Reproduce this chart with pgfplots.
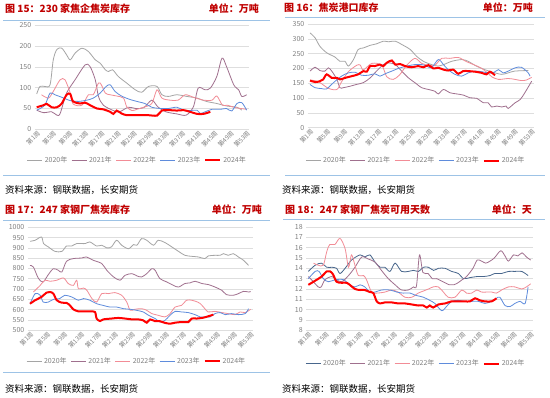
\documentclass[border=0pt]{standalone}
\usepackage{fontspec}
\setmainfont{Noto Sans CJK SC}
\usepackage{pgfplots}
\pgfplotsset{compat=1.18}
\definecolor{titlered}{RGB}{192,0,0}
\definecolor{sepblue}{RGB}{157,195,230}
\definecolor{gridc}{RGB}{222,222,222}
\definecolor{tickc}{RGB}{128,128,128}
\definecolor{cA}{RGB}{165,165,165}
\definecolor{cAd}{RGB}{72,102,140}
\definecolor{cB}{RGB}{160,112,142}
\definecolor{cC}{RGB}{242,140,150}
\definecolor{cD}{RGB}{95,140,220}
\definecolor{cE}{RGB}{255,0,0}
\pgfplotsset{
  panel/.style={
    scale only axis,
    xmin=0.5, xmax=53.5,
    xtick={1,5,...,53},
    xticklabels={第1周,第5周,第9周,第13周,第17周,第21周,第25周,第29周,第33周,第37周,第41周,第45周,第49周,第53周},
    axis line style={draw=none},
    major tick length=0pt,
    ymajorgrids,
    grid style={draw=gridc, line width=0.6pt},
    /pgf/number format/assume math mode=true,
    /pgf/number format/1000 sep={},
    scaled ticks=false,
    tick label style={text=tickc},
    y tick label style={font=\fontsize{7}{8}\selectfont},
    x tick label style={rotate=45, anchor=north east, font=\fontsize{6.2}{7}\selectfont, inner sep=0.5pt},
    no markers,
    legend columns=5,
    legend style={draw=none, fill=none, font=\fontsize{7}{8}\selectfont, text=tickc,
      /tikz/every even column/.append style={column sep=2pt},
      /tikz/every odd column/.append style={column sep=0pt}},
    legend image code/.code={\draw[#1] (0pt,0pt) -- (15pt,0pt);},
    every axis plot/.append style={smooth},
  },
  s20/.style={draw=cA, line width=0.8pt},
  s21/.style={draw=cB, line width=0.8pt},
  s22/.style={draw=cC, line width=0.8pt},
  s23/.style={draw=cD, line width=0.8pt},
  s24/.style={draw=cE, line width=2pt},
}
\begin{document}
\begin{tikzpicture}
\path[use as bounding box, fill=white] (0pt,0pt) rectangle (550pt,398pt);
% ---------- titles and separators ----------
\tikzset{ttl/.style={text=titlered, font=\bfseries\fontsize{10}{12}\selectfont, inner sep=0pt}}
\node[ttl, anchor=west] at (5pt,389.7pt) {图 15：230 家焦企焦炭库存};
\node[ttl, anchor=east] at (259pt,389.7pt) {单位：万吨};
\node[ttl, anchor=west] at (284pt,390.5pt) {图 16：焦炭港口库存};
\node[ttl, anchor=east] at (533pt,390.5pt) {单位：万吨};
\node[ttl, anchor=west] at (5pt,188.3pt) {图 17：247 家钢厂焦炭库存};
\node[ttl, anchor=east] at (262pt,188.3pt) {单位：万吨};
\node[ttl, anchor=west] at (285pt,188.3pt) {图 18：247 家钢厂焦炭可用天数};
\node[ttl, anchor=east] at (532pt,188.3pt) {单位：天};
\draw[sepblue, line width=1pt] (3pt,377.3pt) -- (270pt,377.3pt);
\draw[sepblue, line width=1pt] (285pt,380.7pt) -- (545pt,380.7pt);
\draw[sepblue, line width=1pt] (3pt,177.7pt) -- (270pt,177.7pt);
\draw[sepblue, line width=1pt] (283pt,178pt) -- (545pt,178pt);
\draw[sepblue, line width=1pt] (3pt,222.3pt) -- (270pt,222.3pt);
\draw[sepblue, line width=1pt] (285pt,222.3pt) -- (545pt,222.3pt);
\draw[sepblue, line width=1pt] (3pt,25pt) -- (270pt,25pt);
\tikzset{src/.style={font=\fontsize{9.5}{11}\selectfont, inner sep=0pt, anchor=west}}
\node[src] at (5pt,208pt) {资料来源：钢联数据，长安期货};
\node[src] at (282pt,208pt) {资料来源：钢联数据，长安期货};
\node[src] at (5pt,8.5pt) {资料来源：钢联数据，长安期货};
\node[src] at (282pt,9.3pt) {资料来源：钢联数据，长安期货};

% ---------- Panel 15 ----------
\begin{axis}[panel, at={(34.7pt,268.7pt)}, anchor=south west, width=214pt, height=104pt,
  ymin=0, ymax=250, ytick={0,50,...,250},
  legend style={at={(0.48,-0.295)}, anchor=center}]
\addplot[s20] coordinates {(1,85)(1.8,103)(3,103)(4.3,107)(5.1,167)(6,192)(7.2,195)(8.4,179)(9.3,167)(10.5,183)(12.2,195)(13.8,187)(15.5,167)(16.7,159)(18,143)(18.8,139)(19.8,143)(21.2,127)(23.3,111)(25.4,95)(27,89)(28.7,103)(30.8,103)(32,83)(33.6,79)(35.7,83)(38.2,79)(40.7,75)(43,67)(45.6,62)(48,56)(50.6,53)(51.8,46)};
\addlegendentry{2020年}
\addplot[s21] coordinates {(1,46)(2.7,40)(4.7,42)(6,34)(6.8,38)(8.4,87)(10.5,119)(13,155)(14.2,151)(15.5,119)(16.3,79)(17.5,58)(20,45)(21.5,42)(23.7,53)(25.5,50)(27.5,52)(29.5,70)(31,54)(33,42)(35.7,37)(38,34)(39.8,54)(41,99)(42.7,95)(44,99)(45.6,127)(46.9,171)(48,151)(49.8,107)(51,95)(51.8,79)(53,83)};
\addlegendentry{2021年}
\addplot[s22] coordinates {(2.2,83)(3.9,75)(5.1,91)(6.8,119)(8,119)(9.3,87)(10,61)(12.2,58)(13.8,83)(15,83)(16.3,111)(17,107)(18,87)(19.2,83)(20.8,80)(22.5,75)(23.3,54)(24.6,45)(25.8,48)(27.5,53)(29.5,62)(30.8,95)(32,75)(34,70)(36,70)(37.8,83)(39.8,77)(42.3,70)(44.4,70)(45.6,80)(47,58)(48.2,58)(49.8,53)(51.5,50)(53,48)};
\addlegendentry{2022年}
\addplot[s23] coordinates {(1,46)(3,58)(4.3,87)(5.5,83)(7.2,77)(9.3,69)(11.3,67)(13.4,70)(15,75)(16.7,87)(18.2,103)(19.2,107)(20.4,91)(22,80)(24,72)(26.2,66)(27.8,62)(29.5,53)(31.6,50)(33.6,50)(35.7,53)(37.4,46)(39,45)(40.7,46)(41.5,38)(42.7,42)(44.4,48)(46.5,48)(48,50)(49.3,44)(50.6,62)(51.8,64)(53,46)};
\addlegendentry{2023年}
\addplot[s24] coordinates {(1,53)(2.7,58)(3.5,61)(4.7,53)(6,53)(7.2,62)(8.4,83)(9.3,85)(10,67)(11.7,62)(13,64)(14.2,58)(15.9,50)(17.5,48)(19.2,42)(20,37)(20.8,45)(22,38)(23.3,34)(26,34)(28.5,34)(30.8,33)(32,45)(34,46)(35.7,45)(37.4,46)(39,42)(40.7,37)(42.3,37)(44,42)};
\addlegendentry{2024年}
\end{axis}

% ---------- Panel 16 ----------
\begin{axis}[panel, at={(307.9pt,270.3pt)}, anchor=south west, width=225.9pt, height=103.7pt,
  ymin=0, ymax=350, ytick={0,50,...,350},
  legend style={at={(0.478,-0.318)}, anchor=center}]
\addplot[s20] coordinates {(1,320)(2.2,303)(3.3,275)(4.9,253)(6.9,238)(8,224)(9.2,224)(10,208)(11.2,230)(12.3,264)(13.5,269)(15.1,278)(16.6,283)(18.2,292)(19.4,290)(21,292)(22.5,281)(24.5,264)(26,241)(27.6,224)(29.5,213)(31.1,208)(32.7,215)(34.2,224)(36.6,230)(38.1,224)(40,208)(42,196)(44.4,185)(46,180)(47.5,185)(49,191)(52.2,193)};
\addlegendentry{2020年}
\addplot[s21] coordinates {(1,191)(2.2,204)(3.3,193)(4.5,191)(5.3,202)(6.1,191)(7.3,163)(8,135)(8.8,135)(10.4,140)(11.9,146)(13.5,152)(15.1,168)(16.6,191)(18.2,213)(19.4,219)(21,213)(22.5,191)(24.1,168)(25.6,152)(27.2,135)(28.8,129)(30.3,123)(31.1,114)(32.3,129)(33.8,118)(35.4,114)(37,110)(38.5,101)(40.1,99)(41.7,84)(42.8,84)(43.6,70)(44.8,73)(46,70)(47,73)(47.5,65)(49.1,84)(50.3,95)(51.4,118)(53,157)};
\addlegendentry{2021年}
\addplot[s22] coordinates {(1,161)(3,155)(5.3,133)(7.3,129)(8.4,155)(10,189)(12,211)(12.8,211)(13.5,195)(15.5,217)(17.8,211)(19,172)(20.5,163)(22,178)(23.7,211)(25.6,234)(27.2,217)(28.8,211)(30.3,211)(31.9,234)(33.8,234)(35.8,237)(37.7,223)(39.7,211)(41.3,200)(42.8,183)(43.6,172)(45.2,163)(47.5,166)(49.1,163)(50.6,159)(51.8,161)(53,170)};
\addlegendentry{2022年}
\addplot[s23] coordinates {(1,146)(2.2,135)(3.7,132)(4.9,131)(6.5,152)(8.4,174)(10,185)(11.6,187)(13.1,177)(14.7,177)(16.2,182)(17.4,174)(18.6,182)(20.2,191)(21.7,200)(23.7,208)(25.6,213)(27.2,213)(28.4,208)(29.5,202)(31.1,230)(32.3,213)(33.4,196)(35,180)(36.6,174)(38.1,185)(39.7,191)(41.3,189)(42.8,185)(44,185)(45.2,196)(46.3,185)(47.5,191)(49.1,202)(50.6,204)(52.2,185)(52.6,174)};
\addlegendentry{2023年}
\addplot[s24] coordinates {(1,159)(2.2,154)(3.3,157)(4.1,163)(4.9,180)(6.1,168)(7.3,168)(8,163)(9.2,168)(10.8,174)(12.3,180)(13.5,191)(14.3,189)(15.1,208)(16.2,208)(17.4,213)(18.2,208)(19,219)(20.2,227)(21,213)(22.1,215)(23.3,208)(24.8,204)(26.4,208)(27.6,204)(28.8,211)(29.9,200)(31.1,202)(32.3,196)(33.4,193)(34.6,196)(35.8,182)(36.9,191)(38.1,191)(39.7,189)(41.3,185)(42.4,180)(43.2,189)(44.4,177)};
\addlegendentry{2024年}
\end{axis}

% ---------- Panel 17 ----------
\begin{axis}[panel, at={(27.9pt,67.7pt)}, anchor=south west, width=224.9pt, height=103pt,
  ymin=500, ymax=1000, ytick={500,550,...,1000},
  legend style={at={(0.484,-0.298)}, anchor=center}]
\addplot[s20] coordinates {(1,932)(2.2,937)(3.7,953)(4.2,921)(5.3,905)(6.9,883)(8.5,883)(9.6,909)(10.8,909)(12,921)(14,921)(15.1,929)(16.7,909)(17.9,913)(19.1,900)(20.2,905)(21.4,937)(22.6,913)(24.2,896)(25.4,916)(26.2,913)(27.3,945)(28.5,937)(30.1,913)(31.2,937)(32.8,926)(34.4,905)(36,883)(37.5,864)(39.1,859)(40.7,856)(42.2,848)(43,861)(44.6,864)(45.8,864)(46.6,872)(47.7,864)(48.9,872)(50.1,856)(51.3,840)(52.5,815)};
\addlegendentry{2020年}
\addplot[s21] coordinates {(1,815)(1.8,807)(3,751)(4.1,735)(5.3,770)(6.5,799)(7.7,791)(8.5,783)(9.6,835)(11.2,848)(13.2,851)(14.3,856)(15.9,840)(17.9,824)(19.1,791)(20.7,759)(22.2,743)(23.4,767)(25,775)(26.2,764)(27.3,759)(28.5,775)(29.7,799)(30.5,791)(31.6,751)(33.2,735)(34.8,718)(36,710)(37.5,727)(38.7,730)(39.9,738)(41.5,727)(43,722)(44.6,710)(46.2,694)(47.3,673)(48.9,670)(50.1,678)(51.3,689)(52.5,686)(53,688)};
\addlegendentry{2021年}
\addplot[s22] coordinates {(1.8,686)(3.4,718)(4.5,743)(5.7,738)(7.3,743)(8.9,754)(10,727)(11.2,718)(12,743)(12.4,702)(13.6,705)(14.4,694)(15.6,654)(16.7,637)(17.9,678)(19.5,678)(21,683)(22.6,670)(23.8,637)(24.6,597)(25.7,602)(27.3,605)(28.5,597)(29.7,581)(31.2,573)(32.8,565)(34,581)(35.2,613)(36.7,621)(37.9,646)(39.1,646)(40,641)(41.1,630)(42.2,605)(43,589)(44.6,592)(46.2,586)(47.7,581)(49.3,576)(50.5,589)(51.7,586)(53,602)};
\addlegendentry{2022年}
\addplot[s23] coordinates {(1,629)(2.2,678)(3.4,670)(4.1,637)(5.3,637)(6.5,650)(8,654)(9.2,670)(10.8,662)(12.4,646)(13.6,654)(15.1,646)(16.7,629)(18.2,621)(19.8,613)(21.4,613)(23,605)(24.6,602)(26.1,597)(27.7,589)(28.9,573)(30.5,557)(31.6,540)(32.8,548)(34,573)(35.2,592)(36.7,589)(38.3,586)(39.9,576)(41.1,565)(42.2,565)(43.4,565)(44.6,581)(45.8,586)(47,576)(48.5,581)(50.1,576)(51.7,581)(52.5,605)};
\addlegendentry{2023年}
\addplot[s24] coordinates {(1,629)(2.2,646)(3.7,662)(4.9,683)(5.7,686)(6.5,678)(7.3,646)(8.5,634)(9.6,633)(10.4,621)(11.2,602)(12.4,592)(14,592)(15.1,592)(16.3,589)(16.7,557)(17.5,545)(18.3,553)(20.2,557)(21.8,560)(23.4,557)(25,553)(26.5,553)(27.7,548)(28.5,537)(29.3,553)(30.5,544)(31.6,544)(32.8,536)(34,532)(35.2,537)(36.7,540)(38.3,540)(39.1,557)(40.3,557)(41.8,561)(43,568)(44.2,576)};
\addlegendentry{2024年}
\end{axis}

% ---------- Panel 18 ----------
\begin{axis}[panel, at={(306.2pt,67.7pt)}, anchor=south west, width=226.6pt, height=103.3pt,
  ymin=8, ymax=18, ytick={8,9,...,18},
  legend style={at={(0.484,-0.323)}, anchor=center}]
\addplot[draw=cAd, line width=0.8pt] coordinates {(1,13.7)(2.6,14.3)(4.1,14.5)(5.3,14.1)(6.5,14.1)(7.6,14.0)(8.4,13.5)(9.6,14.0)(11.1,14.8)(13.1,15.3)(14.2,15.1)(15.4,15.3)(16.6,14.6)(17.8,14.1)(18.9,14.1)(20.1,13.7)(21.3,14.5)(22.8,13.7)(24.4,13.7)(25.6,13.8)(26.8,13.7)(27.9,14.1)(29.1,14.1)(30.3,13.8)(31.4,14.0)(33,14.0)(34.5,13.7)(36.1,13.5)(37.3,13.0)(38.8,13.1)(40.4,13.2)(41.9,13.2)(43.5,13.3)(44.6,13.5)(46.2,13.5)(47.8,13.7)(49.3,13.7)(50.9,13.7)(52.4,13.3)};
\addlegendentry{2020年}
\addplot[s21] coordinates {(1,13.2)(2.2,12.7)(3.3,12.2)(4,12.2)(4.9,12.9)(6.5,13.2)(7.6,12.9)(8.8,12.7)(10.4,13.3)(11.9,14.1)(13.5,15.1)(15,14.9)(16.6,14.6)(18.1,13.8)(19.7,13.0)(21.3,12.4)(22.8,11.9)(24.4,11.9)(25.6,12.2)(26.3,12.3)(27,15.3)(27.8,13.6)(29,13.5)(30,13.0)(31,13.0)(32,12.8)(33,12.6)(34,12.4)(35,12.4)(36,12.6)(37,12.9)(38,13.2)(39.5,14.0)(40.5,14.8)(41.5,14.7)(42.5,14.5)(43.5,14.7)(44.5,15.0)(46,15.7)(47,15.2)(47.8,14.7)(49,15.3)(50,15.2)(51,15.5)(52,15.1)(53,14.8)};
\addlegendentry{2021年}
\addplot[s22] coordinates {(2.2,14.5)(3.3,14.3)(4.5,14.3)(5.3,15.6)(6,16.3)(7.2,16.3)(8.4,16.9)(9.6,15.9)(10.4,14.1)(11.1,15.3)(11.9,14.3)(12.7,13.3)(13.9,13.3)(14.6,12.9)(15.8,11.7)(17,11.6)(18.9,11.7)(20.5,11.9)(22,11.7)(23.6,11.2)(25.2,11.2)(26.7,11.6)(27.9,11.8)(29.1,12.0)(30.2,12.2)(31.4,12.2)(32.6,11.7)(33.7,11.2)(35.3,11.2)(36.9,11.9)(38,11.6)(39.2,11.6)(40.4,11.9)(41.5,11.7)(42.7,11.7)(43.9,11.7)(45,11.6)(46.2,11.9)(47.8,12.2)(49.3,12.2)(50.9,12.0)(52,12.2)(53,12.5)};
\addlegendentry{2022年}
\addplot[s23] coordinates {(1,13.0)(2.6,13.7)(3.5,13.7)(4.5,13.0)(5.7,12.7)(7.3,12.9)(9.2,12.9)(10.7,12.4)(11.9,12.2)(13.1,12.4)(14.2,12.2)(15.4,11.7)(16.6,11.7)(18.1,11.9)(20.1,11.9)(21.7,11.7)(23.2,11.6)(24.8,11.6)(26,11.4)(27.9,11.2)(29.4,10.9)(30.6,10.6)(32.2,9.9)(33.3,10.3)(34.5,10.8)(36.1,10.9)(37.6,10.8)(39.2,10.8)(40.8,10.8)(42.3,10.6)(43.9,10.8)(45,11.1)(45.8,11.2)(47,10.4)(48.2,10.3)(49.3,10.6)(50.5,10.8)(51.7,10.6)(52.4,12.2)};
\addlegendentry{2023年}
\addplot[s24] coordinates {(1,12.4)(2.6,12.8)(4.1,13.2)(5.3,13.7)(6.1,13.7)(6.8,13.4)(7.6,12.7)(8.8,12.6)(10,12.6)(10.7,12.4)(11.9,12.0)(13.1,11.9)(14.2,11.9)(15.4,11.7)(16.2,11.6)(17,10.8)(17.8,10.6)(18.9,10.7)(20.5,10.7)(22,10.6)(23.6,10.6)(25.2,10.5)(26.7,10.4)(27.9,10.4)(28.7,10.2)(29.4,10.4)(30.2,10.2)(31.4,10.5)(33,10.6)(34.5,10.8)(36.1,10.8)(37.6,10.8)(38.8,10.8)(40,11.1)(41.1,10.9)(42.3,10.8)(43.9,10.8)(45,11.1)};
\addlegendentry{2024年}
\end{axis}
\end{tikzpicture}
\end{document}
